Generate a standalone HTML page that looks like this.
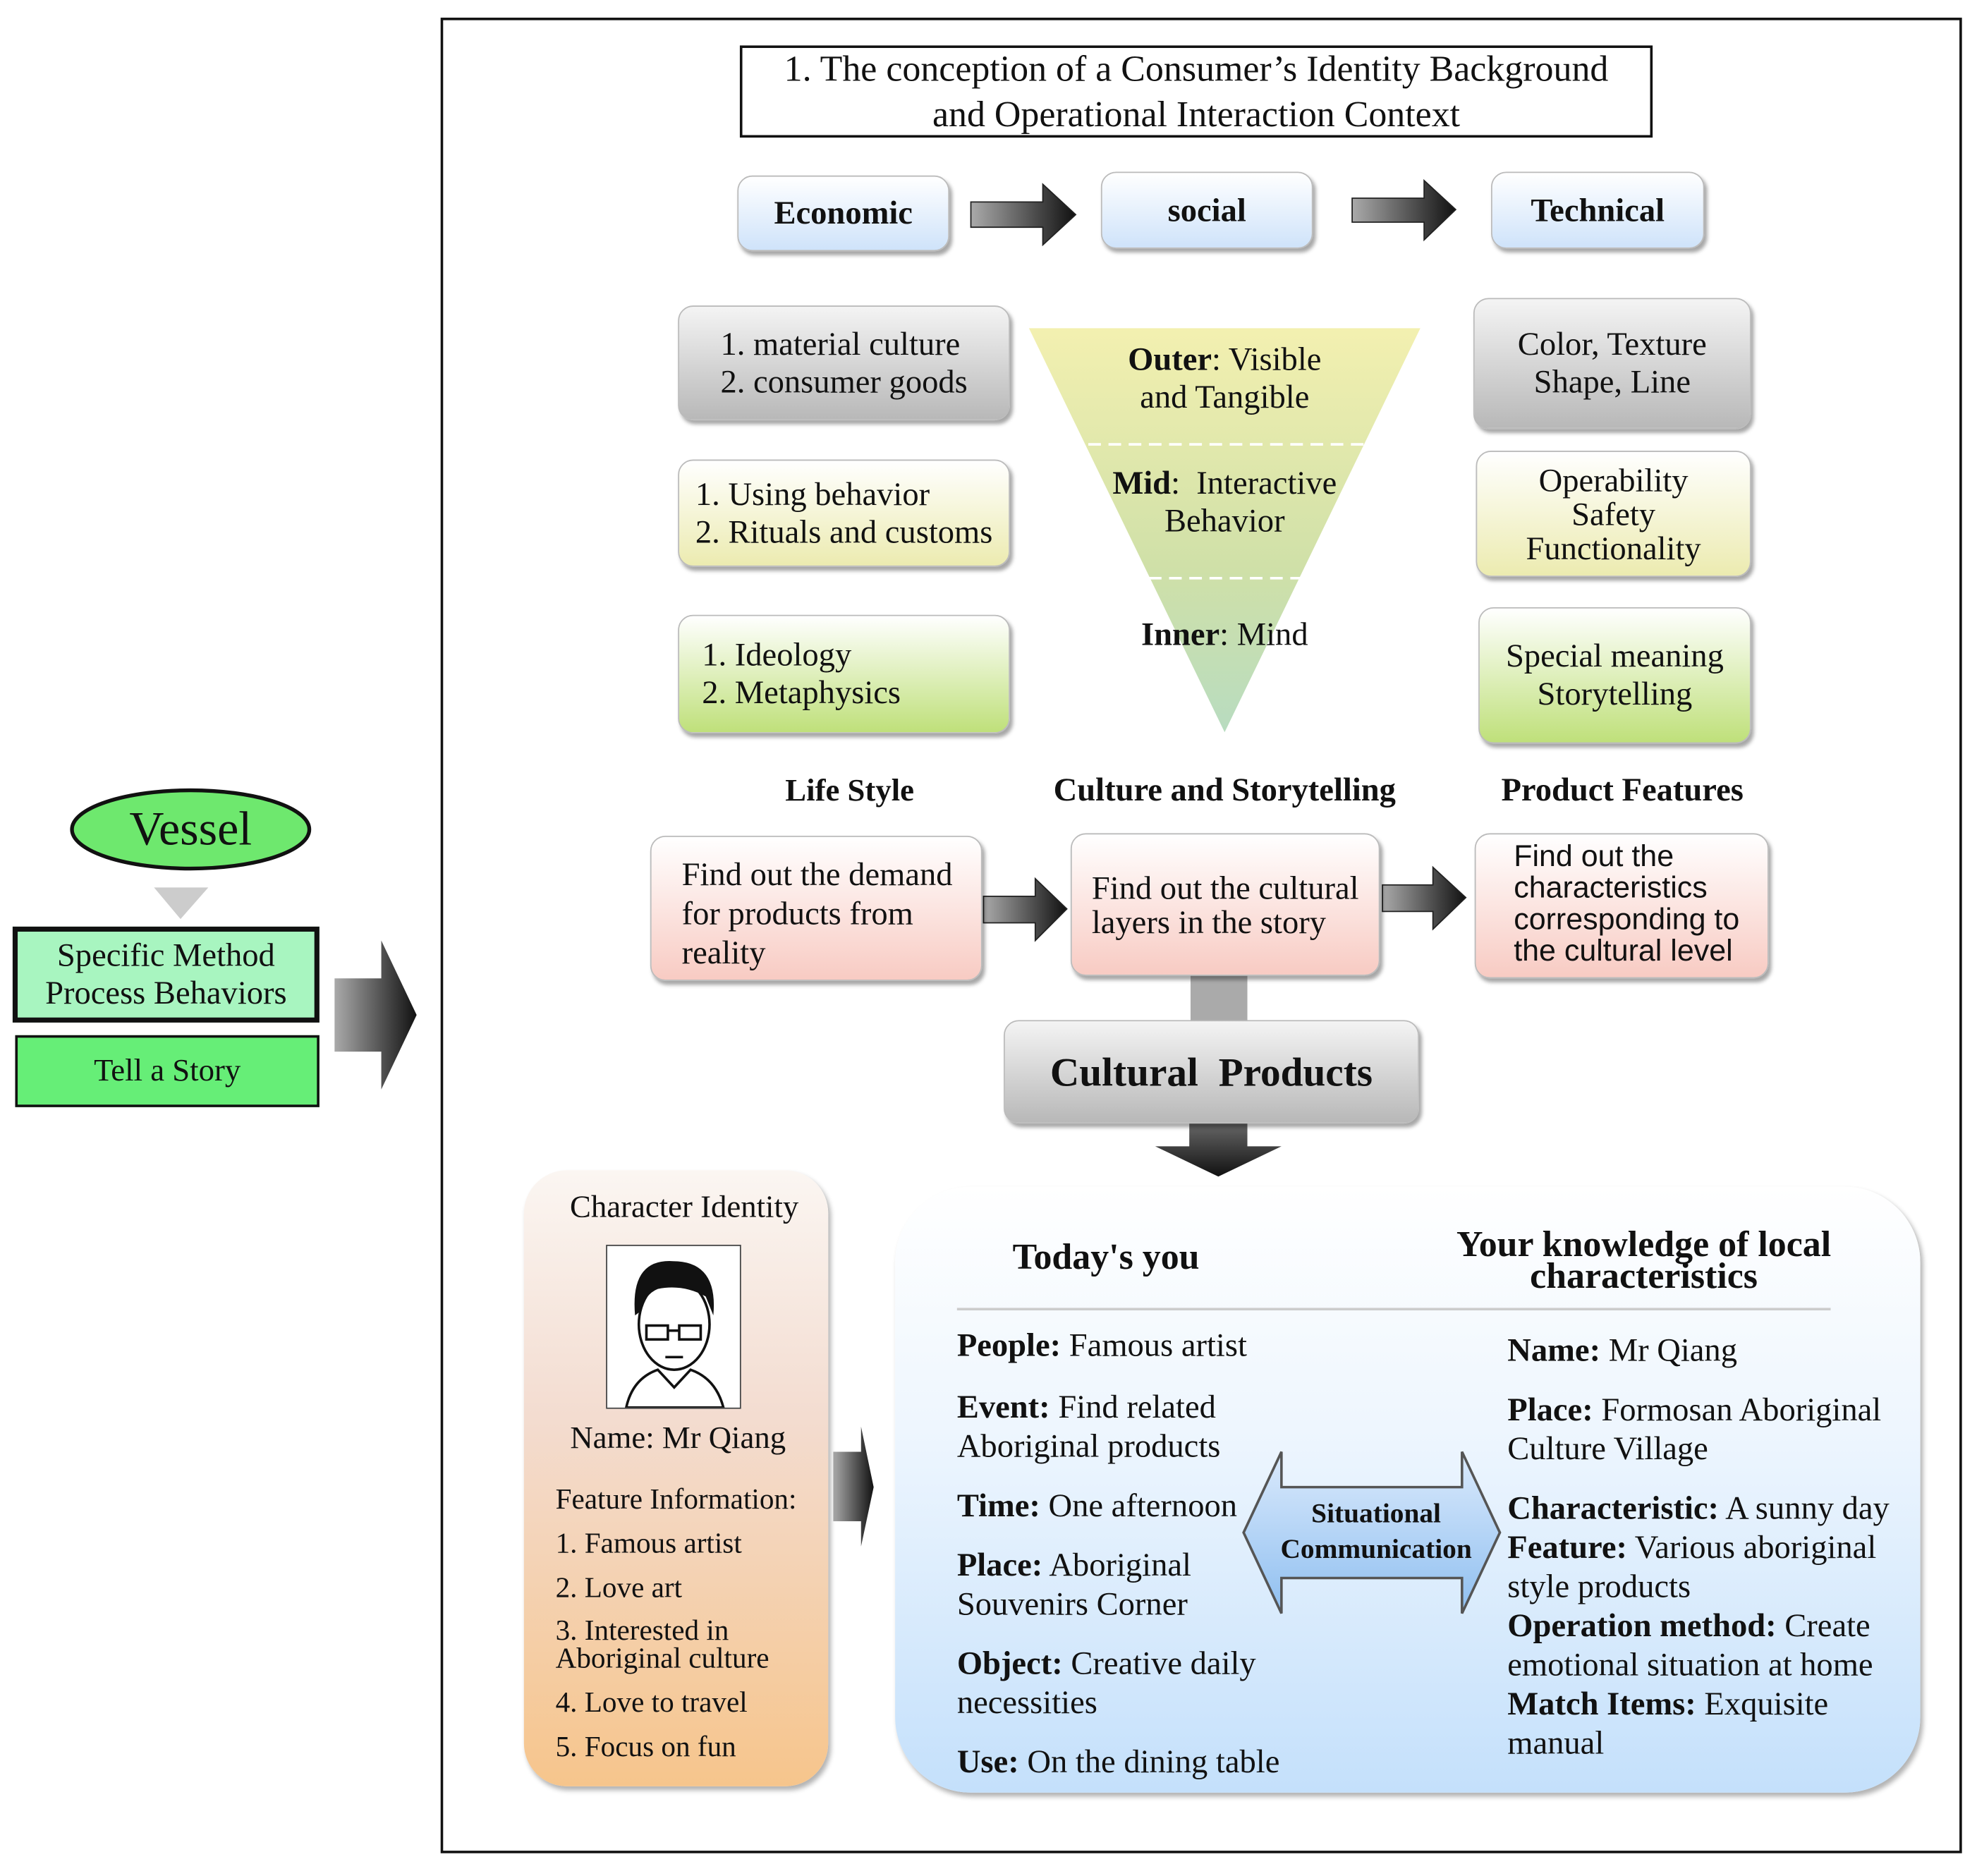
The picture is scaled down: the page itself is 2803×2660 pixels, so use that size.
<!DOCTYPE html>
<html><head><meta charset="utf-8"><style>
body{margin:0;background:#fff;width:2803px;height:2659px;overflow:hidden}
#w{position:absolute;left:0;top:0;width:1566px;height:1486px;transform:scale(1.79);transform-origin:0 0;font-family:"Liberation Serif",serif;color:#111}
.a{position:absolute;box-sizing:border-box}
.bx{border-radius:12px;box-shadow:2px 3px 3px rgba(0,0,0,.35);border:1px solid #bbb}
.c{display:flex;align-items:center;justify-content:center;text-align:center}
.blue{background:linear-gradient(#fff,#cfe3fa)}
.gray{background:linear-gradient(#f4f4f4,#b8b8b8)}
.yel{background:linear-gradient(#fff,#ecebb0)}
.grn{background:linear-gradient(#fff,#bfe07a)}
.pink{background:linear-gradient(#fff,#f8cbc3)}
.t{font-size:26px;line-height:30px;white-space:nowrap}
b{font-weight:bold}
</style></head><body><div id="w">
<div class="a" style="left:349px;top:14px;width:1205px;height:1454px;border:2px solid #111"></div>
<div class="a c" style="left:586px;top:36px;width:723px;height:73px;border:2px solid #111;font-size:29px;line-height:36px;white-space:nowrap">1. The conception of a Consumer’s Identity Background<br>and Operational Interaction Context</div>

<div class="a bx blue c" style="left:584px;top:139px;width:168px;height:60px;font-size:26px;font-weight:bold">Economic</div>
<div class="a bx blue c" style="left:872px;top:136px;width:168px;height:61px;font-size:26px;font-weight:bold">social</div>
<div class="a bx blue c" style="left:1181px;top:136px;width:169px;height:61px;font-size:26px;font-weight:bold">Technical</div>

<svg class="a" style="left:0;top:0" width="1566" height="1486">
<defs>
<linearGradient id="ar" x1="0" x2="1"><stop offset="0" stop-color="#aaa"/><stop offset="1" stop-color="#111"/></linearGradient>
<linearGradient id="ad" x1="0" y1="0" x2="0" y2="1"><stop offset="0" stop-color="#666"/><stop offset="1" stop-color="#111"/></linearGradient>
<linearGradient id="tri" x1="0" y1="0" x2="0" y2="1"><stop offset="0" stop-color="#f3f0b0"/><stop offset=".6" stop-color="#cfe0a8"/><stop offset="1" stop-color="#b8dcc0"/></linearGradient>
</defs>
<polygon points="769,160 826,160 826,146 852,170 826,194 826,180 769,180" fill="url(#ar)" stroke="#222"/>
<polygon points="1071,157 1128,157 1128,143 1153,166 1128,190 1128,176 1071,176" fill="url(#ar)" stroke="#222"/>
<polygon points="815,260 1125,260 970,580" fill="url(#tri)"/>
<line x1="862" y1="352" x2="1080" y2="352" stroke="#fff" stroke-width="2" stroke-dasharray="10,6"/>
<line x1="910" y1="458" x2="1030" y2="458" stroke="#fff" stroke-width="2" stroke-dasharray="10,6"/>
<polygon points="779,710 820,710 820,696 845,720 820,745 820,731 779,731" fill="url(#ar)" stroke="#222"/>
<polygon points="1095,701 1135,701 1135,687 1161,711 1135,736 1135,722 1095,722" fill="url(#ar)" stroke="#222"/>
<rect x="943" y="773" width="45" height="36" fill="#aaa"/>
<polygon points="942,890 988,890 988,908 1015,908 965,932 915,908 942,908" fill="url(#ad)"/>
<polygon points="660,1150 682,1150 682,1130 692,1178 682,1225 682,1205 660,1205" fill="url(#ar)"/>
<polygon points="122,703 165,703 143,728" fill="#ccc"/>
<polygon points="265,775 302,775 302,745 330,804 302,863 302,833 265,833" fill="url(#ar)"/>
<ellipse cx="151" cy="657" rx="94" ry="31" fill="#6ee86e" stroke="#111" stroke-width="3"/>
</svg>

<div class="a t c" style="left:815px;top:270px;width:310px;height:60px"><div><b>Outer</b>: Visible<br>and Tangible</div></div>
<div class="a t c" style="left:815px;top:368px;width:310px;height:60px"><div><b>Mid</b>:&nbsp; Interactive<br>Behavior</div></div>
<div class="a t c" style="left:815px;top:488px;width:310px;height:30px"><div><b>Inner</b>: Mind</div></div>

<div class="a bx gray t c" style="left:537px;top:242px;width:263px;height:91px"><div style="text-align:left">1. material culture<br>2. consumer goods</div></div>
<div class="a bx yel t c" style="left:537px;top:364px;width:263px;height:85px"><div style="text-align:left">1. Using behavior<br>2. Rituals and customs</div></div>
<div class="a bx grn t c" style="left:537px;top:487px;width:263px;height:94px;justify-content:flex-start;padding-left:18px"><div style="text-align:left">1. Ideology<br>2. Metaphysics</div></div>

<div class="a bx gray t c" style="left:1167px;top:236px;width:220px;height:104px">Color, Texture<br>Shape, Line</div>
<div class="a bx yel t c" style="left:1169px;top:357px;width:218px;height:100px;line-height:27px">Operability<br>Safety<br>Functionality</div>
<div class="a bx grn t c" style="left:1171px;top:481px;width:216px;height:108px">Special meaning<br>Storytelling</div>

<div class="a" style="left:560px;top:613px;width:226px;text-align:center;font-size:25px;font-weight:bold">Life Style</div>
<div class="a" style="left:810px;top:611px;width:320px;text-align:center;font-size:26px;font-weight:bold;white-space:nowrap">Culture and Storytelling</div>
<div class="a" style="left:1150px;top:611px;width:270px;text-align:center;font-size:26px;font-weight:bold;white-space:nowrap">Product Features</div>

<div class="a bx pink t" style="left:515px;top:662px;width:263px;height:115px;padding:14px 0 0 24px;line-height:31px">Find out the demand<br>for products from<br>reality</div>
<div class="a bx pink t c" style="left:848px;top:660px;width:245px;height:113px;line-height:27px"><div style="text-align:left">Find out the cultural<br>layers in the story</div></div>
<div class="a bx pink" style="left:1168px;top:660px;width:233px;height:115px;padding:5px 0 0 30px;font-family:'Liberation Sans',sans-serif;font-size:24px;line-height:25px;white-space:nowrap">Find out the<br>characteristics<br>corresponding to<br>the cultural level</div>

<div class="a bx gray c" style="left:795px;top:808px;width:329px;height:82px;font-size:32px;font-weight:bold;white-space:pre">Cultural  Products</div>

<div class="a" style="left:415px;top:927px;width:241px;height:488px;border-radius:34px;background:linear-gradient(#fbf6f2,#f3dcd0 40%,#f6c58c);box-shadow:2px 3px 4px rgba(0,0,0,.3)"></div>
<div class="a" style="left:415px;top:943px;width:254px;text-align:center;font-size:25px;white-space:nowrap">Character Identity</div>
<div class="a" style="left:480px;top:986px;width:107px;height:130px;border:1px solid #444;background:#fff">
<svg width="105" height="128"><ellipse cx="53" cy="62" rx="28" ry="36" fill="#fff" stroke="#111" stroke-width="2"/><path d="M22,55 Q18,10 52,12 Q88,12 84,55 L78,40 Q60,30 40,34 Q30,38 26,52 Z" fill="#111"/><rect x="31" y="63" width="17" height="11" fill="none" stroke="#111" stroke-width="2"/><rect x="57" y="63" width="17" height="11" fill="none" stroke="#111" stroke-width="2"/><line x1="48" y1="67" x2="57" y2="67" stroke="#111" stroke-width="2"/><path d="M46,88 L60,88" stroke="#111" stroke-width="2"/><path d="M15,128 Q20,105 40,98 L53,112 L66,98 Q86,105 92,128Z" fill="#fff" stroke="#111" stroke-width="2"/></svg></div>
<div class="a" style="left:415px;top:1126px;width:244px;text-align:center;font-size:25px;white-space:nowrap">Name: Mr Qiang</div>
<div class="a" style="left:440px;top:1170px;font-size:23px;line-height:35px;white-space:nowrap">Feature Information:<br>1. Famous artist<br>2. Love art<br><span style="line-height:22px;display:inline-block;padding-top:6px">3. Interested in<br>Aboriginal culture</span><br>4. Love to travel<br>5. Focus on fun</div>

<div class="a" style="left:709px;top:940px;width:812px;height:480px;border-radius:60px;background:linear-gradient(#fff,#eef6fe 40%,#c4e0fb);box-shadow:2px 3px 4px rgba(0,0,0,.3)"></div>
<svg class="a" style="left:0;top:0" width="1566" height="1486">
<defs><linearGradient id="dbl" x1="0" y1="0" x2="0" y2="1"><stop offset="0" stop-color="#dbeafc"/><stop offset="1" stop-color="#8fbff0"/></linearGradient></defs>
<polygon points="985,1214 1015,1150 1015,1178 1158,1178 1158,1150 1188,1214 1158,1278 1158,1250 1015,1250 1015,1278" fill="url(#dbl)" stroke="#555" stroke-width="2"/>
</svg>
<div class="a" style="left:802px;top:980px;font-size:29px;font-weight:bold;white-space:nowrap">Today's you</div>
<div class="a" style="left:1120px;top:974px;width:364px;text-align:center;font-size:29px;font-weight:bold;line-height:25px;white-space:nowrap">Your knowledge of local<br>characteristics</div>
<div class="a" style="left:758px;top:1036px;width:692px;height:2px;background:#ccc"></div>
<div class="a t" style="left:758px;top:1050px;line-height:31px">
<b>People:</b> Famous artist<div style="height:18px"></div>
<b>Event:</b> Find related<br>Aboriginal products<div style="height:16px"></div>
<b>Time:</b> One afternoon<div style="height:16px"></div>
<b>Place:</b> Aboriginal<br>Souvenirs Corner<div style="height:16px"></div>
<b>Object:</b> Creative daily<br>necessities<div style="height:16px"></div>
<b>Use:</b> On the dining table</div>
<div class="a t" style="left:1194px;top:1054px;line-height:31px">
<b>Name:</b> Mr Qiang<div style="height:16px"></div>
<b>Place:</b> Formosan Aboriginal<br>Culture Village<div style="height:16px"></div>
<b>Characteristic:</b> A sunny day<br><b>Feature:</b> Various aboriginal<br>style products<br><b>Operation method:</b> Create<br>emotional situation at home<br><b>Match Items:</b> Exquisite<br>manual</div>
<div class="a c" style="left:1002px;top:1183px;width:176px;height:60px;font-size:22px;font-weight:bold;line-height:28px;white-space:nowrap">Situational<br>Communication</div>

<div class="a c" style="left:57px;top:626px;width:188px;height:62px;font-size:38px">Vessel</div>
<div class="a c" style="left:10px;top:734px;width:243px;height:76px;border:4px solid #111;background:#a8f5c0;font-size:26px;line-height:30px;white-space:nowrap">Specific Method<br>Process Behaviors</div>
<div class="a c" style="left:12px;top:820px;width:241px;height:57px;border:2px solid #111;background:#66ee77;font-size:25px">Tell a Story</div>
</div></body></html>
